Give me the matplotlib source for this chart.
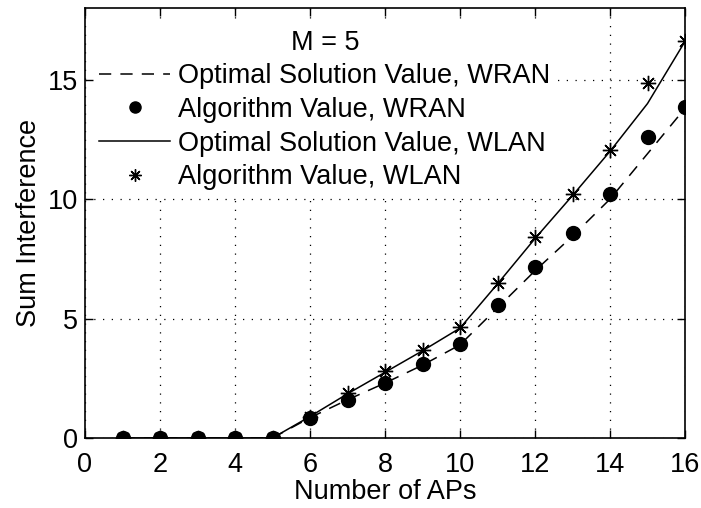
import matplotlib
matplotlib.use("Agg")
import matplotlib.pyplot as plt

plt.rcParams['font.family'] = ['Liberation Sans', 'DejaVu Sans']

aps = [1, 2, 3, 4, 5, 6, 7, 8, 9, 10, 11, 12, 13, 14, 15, 16]
opt_wran = [0, 0, 0, 0, 0, 0.85, 1.6, 2.3, 3.05, 3.9, 5.45, 7.0, 8.45, 10.0, 11.9, 13.8]
alg_wran = [0, 0, 0, 0, 0, 0.83, 1.6, 2.3, 3.1, 3.93, 5.56, 7.15, 8.6, 10.2, 12.6, 13.85]
opt_wlan = [0, 0, 0, 0, 0, 0.9, 1.85, 2.75, 3.65, 4.6, 6.45, 8.35, 10.15, 12.0, 14.0, 16.6]
alg_wlan = [0, 0, 0, 0, 0, 0.89, 1.9, 2.8, 3.68, 4.63, 6.49, 8.4, 10.2, 12.05, 14.85, 16.6]
xticks = [0, 2, 4, 6, 8, 10, 12, 14, 16]
yticks = [0, 5, 10, 15]

FS = 19.5

fig = plt.figure(figsize=(7.01, 5.08), dpi=100)
ax = fig.add_axes([85/701, 1-438/508, 600/701, 430/508])

ax.plot(aps, opt_wran, color='black', lw=1.1, linestyle=(0, (8, 6)),
        label='Optimal Solution Value, WRAN')
ax.plot(aps, alg_wran, linestyle='none', marker='o', markersize=10,
        color='black', label='Algorithm Value, WRAN')
ax.plot(aps, opt_wlan, color='black', lw=1.1, linestyle='-',
        label='Optimal Solution Value, WLAN')
ax.plot(aps, alg_wlan, linestyle='none', marker=(8, 2, 0), markersize=11,
        markeredgewidth=1.0, color='black', label='Algorithm Value, WLAN')

ax.set_xlim(0, 16)
ax.set_ylim(0, 18)
ax.set_xticks(xticks)
ax.set_yticks(yticks)
ax.tick_params(direction='in', length=6, width=1, top=True, right=True,
               labelsize=FS, pad=5)
ax.tick_params(axis='x', pad=10)
ax.grid(True, color='black', linestyle=(0, (1, 6)), lw=0.9)
for s in ax.spines.values():
    s.set_linewidth(1.2)

ax.set_xlabel('Number of APs', fontsize=FS, labelpad=1)
ax.set_ylabel('Sum Interference', fontsize=FS, labelpad=4)

leg = ax.legend(loc='upper left', bbox_to_anchor=(0.015, 0.962),
                title='M = 5', fontsize=FS, title_fontsize=FS,
                frameon=True, fancybox=False, handlelength=2.6,
                handletextpad=0.3, labelspacing=0.28, borderpad=0.2,
                borderaxespad=0, markerscale=0.8)
leg.get_frame().set_edgecolor('none')
leg.get_frame().set_facecolor('white')
leg.get_frame().set_alpha(1)

fig.savefig('out.png', dpi=100)
